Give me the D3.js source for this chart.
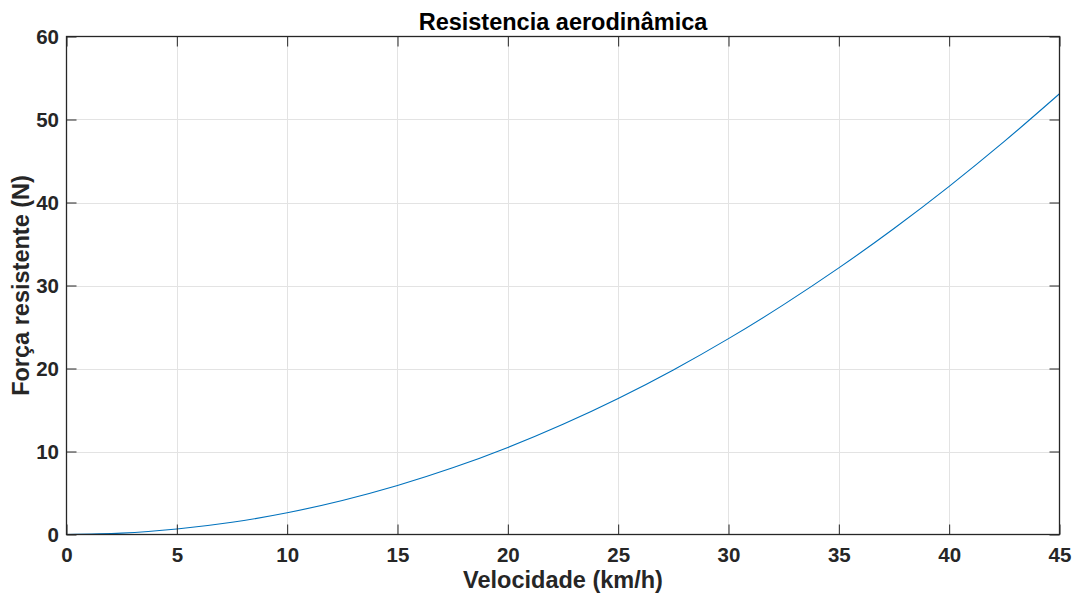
<!DOCTYPE html>
<html>
<head>
<meta charset="utf-8">
<script src="https://cdn.jsdelivr.net/npm/d3@7"></script>
<style>
  html, body { margin: 0; padding: 0; background: #fff; }
  svg { display: block; font-family: "Liberation Sans", Arial, Helvetica, sans-serif; }
</style>
</head>
<body>
<svg id="chart" width="1077" height="598"></svg>
<script>
// Aerodynamic drag force versus speed
const speed = [0, 2.5, 5, 7.5, 10, 12.5, 15, 17.5, 20, 22.5, 25, 27.5, 30, 32.5, 35, 37.5, 40, 42.5, 45];
const force = [0, 0.16, 0.66, 1.47, 2.62, 4.1, 5.9, 8.03, 10.49, 13.28, 16.39, 19.83, 23.6, 27.7, 32.12, 36.87, 41.95, 47.36, 53.1];
const xTicks = [0, 5, 10, 15, 20, 25, 30, 35, 40, 45];
const yTicks = [0, 10, 20, 30, 40, 50, 60];

const titleText = "Resistencia aerodinâmica";
const xLabel = "Velocidade (km/h)";
const yLabel = "Força resistente (N)";

const svg = d3.select("#chart");
const m = { left: 66.5, top: 36.5, right: 1059.5, bottom: 534.5 };

const x = d3.scaleLinear().domain([0, 45]).range([m.left, m.right]);
const y = d3.scaleLinear().domain([0, 60]).range([m.bottom, m.top]);

const textColor = "#262626";
const gridColor = "#e3e3e3";

// grid lines
const grid = svg.append("g");
grid.selectAll(".gx").data(xTicks.slice(1, -1)).join("line")
  .attr("x1", d => Math.round(x(d)) + 0.5).attr("x2", d => Math.round(x(d)) + 0.5)
  .attr("y1", m.top).attr("y2", m.bottom)
  .attr("stroke", gridColor).attr("stroke-width", 1);
grid.selectAll(".gy").data(yTicks.slice(1, -1)).join("line")
  .attr("y1", d => Math.round(y(d)) + 0.5).attr("y2", d => Math.round(y(d)) + 0.5)
  .attr("x1", m.left).attr("x2", m.right)
  .attr("stroke", gridColor).attr("stroke-width", 1);

// data curve
const line = d3.line().x((d, i) => x(speed[i])).y(d => y(d)).curve(d3.curveMonotoneX);
svg.append("path").datum(force)
  .attr("d", line)
  .attr("fill", "none")
  .attr("stroke", "#0072BD")
  .attr("stroke-width", 1.1);

// axes with inward ticks on all four sides
const tickLen = 10;
function styleAxis(g) {
  g.selectAll(".domain").remove();
  g.selectAll(".tick line").attr("stroke", textColor).attr("stroke-width", 1);
  g.selectAll(".tick text")
    .attr("fill", textColor)
    .attr("font-size", "20.5px")
    .attr("font-weight", "bold");
}

svg.append("g").attr("transform", `translate(0,${m.bottom})`)
  .call(d3.axisBottom(x).tickValues(xTicks).tickSize(-tickLen).tickFormat(d3.format("d")))
  .call(styleAxis)
  .call(g => g.selectAll(".tick text").attr("y", 27.5).attr("dy", 0));
svg.append("g").attr("transform", `translate(0,${m.top})`)
  .call(d3.axisTop(x).tickValues(xTicks).tickSize(-tickLen).tickFormat(""))
  .call(styleAxis);
svg.append("g").attr("transform", `translate(${m.left},0)`)
  .call(d3.axisLeft(y).tickValues(yTicks).tickSize(-tickLen).tickFormat(d3.format("d")))
  .call(styleAxis)
  .call(g => g.selectAll(".tick text").attr("x", -7.5).attr("dy", "0.36em"));
svg.append("g").attr("transform", `translate(${m.right},0)`)
  .call(d3.axisRight(y).tickValues(yTicks).tickSize(-tickLen).tickFormat(""))
  .call(styleAxis);

// frame
svg.append("rect")
  .attr("x", m.left).attr("y", m.top)
  .attr("width", m.right - m.left).attr("height", m.bottom - m.top)
  .attr("fill", "none").attr("stroke", textColor).attr("stroke-width", 1.3);

// title and axis labels
svg.append("text")
  .attr("x", (m.left + m.right) / 2).attr("y", 30)
  .attr("text-anchor", "middle")
  .attr("font-size", "23.5px").attr("font-weight", "bold").attr("fill", "#000")
  .text(titleText);
svg.append("text")
  .attr("x", (m.left + m.right) / 2).attr("y", 588)
  .attr("text-anchor", "middle")
  .attr("font-size", "23.5px").attr("font-weight", "bold").attr("fill", textColor)
  .text(xLabel);
svg.append("text")
  .attr("transform", `translate(28.5,${(m.top + m.bottom) / 2}) rotate(-90)`)
  .attr("text-anchor", "middle")
  .attr("font-size", "23.5px").attr("font-weight", "bold").attr("fill", textColor)
  .text(yLabel);
</script>
</body>
</html>
